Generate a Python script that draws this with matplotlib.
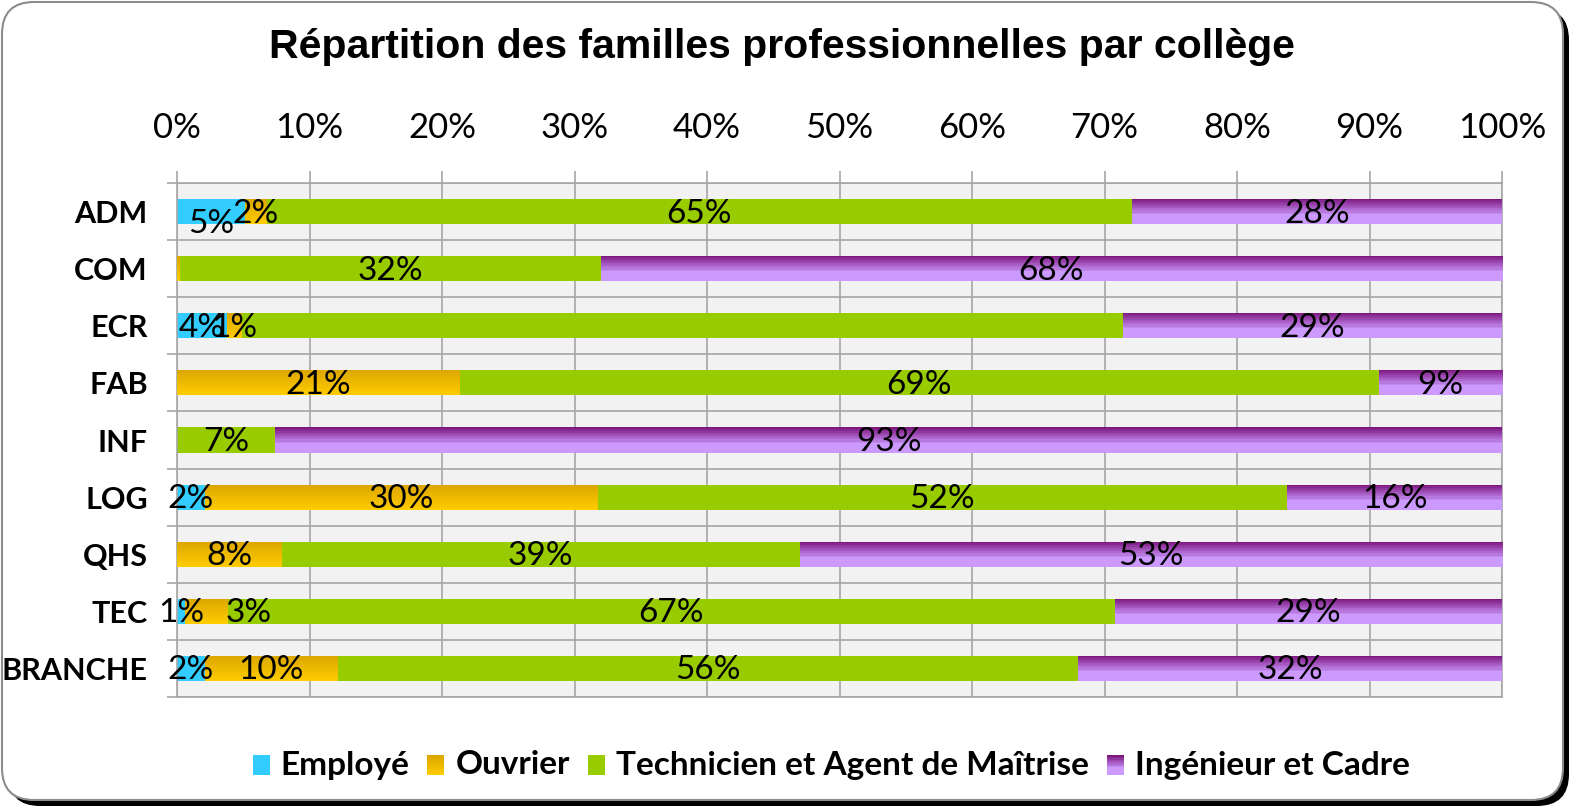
import numpy as np
import matplotlib
matplotlib.use("Agg")
import matplotlib.pyplot as plt
from matplotlib.patches import FancyBboxPatch
from matplotlib.colors import LinearSegmentedColormap
from matplotlib.ticker import PercentFormatter, FixedLocator
from matplotlib.transforms import IdentityTransform, offset_copy

categories = ["ADM", "COM", "ECR", "FAB", "INF", "LOG", "QHS", "TEC", "BRANCHE"]
series = ["Employé", "Ouvrier", "Technicien et Agent de Maîtrise", "Ingénieur et Cadre"]
employe = [5.1, 0.0, 3.8, 0.0, 0.0, 2.1, 0.0, 0.6, 2.1]
ouvrier = [1.6, 0.2, 1.1, 21.3, 0.0, 29.6, 7.9, 3.2, 10.0]
technicien = [65.4, 31.8, 66.5, 69.4, 7.4, 52.1, 39.1, 67.0, 55.9]
ingenieur = [27.9, 68.0, 28.6, 9.3, 92.6, 16.2, 53.0, 29.2, 32.0]

# labels Excel n'affiche pas / labels déplacés à la main (en pixels)
hidden = {("ECR", 2)}
nudge = {("ADM", 0): (0, -10), ("TEC", 1): (42, 0)}

W, H = 1573, 808
fig = plt.figure(figsize=(W / 100, H / 100), dpi=100, facecolor="white")

# cadre arrondi avec ombre noire
shadow = FancyBboxPatch((8, 2), 1561, 798, boxstyle="round,pad=0,rounding_size=32",
                        transform=IdentityTransform(), facecolor="black", edgecolor="none", zorder=-3)
frame = FancyBboxPatch((2, 8), 1561, 798, boxstyle="round,pad=0,rounding_size=32",
                       transform=IdentityTransform(), facecolor="white", edgecolor="#8c8c8c",
                       linewidth=1.5, zorder=-2)
fig.add_artist(shadow)
fig.add_artist(frame)

ax = fig.add_axes([177 / W, 1 - 697 / H, (1502 - 177) / W, (697 - 183) / H])
ax.set_facecolor("#f2f2f2")
ax.set_zorder(1)

gold = LinearSegmentedColormap.from_list("gold", ["#dba600", "#ffcc00"])
purple = LinearSegmentedColormap.from_list("purple", ["#7c1880", "#cc99ff"])


def gold_grad():
    return np.linspace(0, 1, 50).reshape(-1, 1)


def purple_grad():
    t = np.clip(np.arange(25) / 15.0, 0, 1)
    return (np.floor(t * 8) / 8).reshape(-1, 1)


def fill_gradient(bar, cmap, grad):
    x0, y0 = bar.get_x(), bar.get_y()
    w, h = bar.get_width(), bar.get_height()
    if w <= 0:
        return
    im = ax.imshow(grad, cmap=cmap, vmin=0, vmax=1, aspect="auto", interpolation="nearest",
                   extent=(x0, x0 + w, y0 + h, y0), origin="upper", zorder=3)
    im.set_clip_path(bar)


y = np.arange(len(categories))
values = [employe, ouvrier, technicien, ingenieur]
colors = ["#33ccff", "#ffcc00", "#99cc00", "#cc99ff"]
left = np.zeros(len(categories))
height = 0.44
for s, (vals, col) in enumerate(zip(values, colors)):
    vals = np.array(vals)
    bars = ax.barh(y, vals, left=left, height=height, color=col, edgecolor="none", zorder=2)
    for i, bar in enumerate(bars):
        if s == 1:
            fill_gradient(bar, gold, gold_grad())
        elif s == 3:
            fill_gradient(bar, purple, purple_grad())
        key = (categories[i], s)
        if vals[i] < 0.5 or key in hidden:
            continue
        dx, dy = nudge.get(key, (0, 0))
        tr = offset_copy(ax.transData, fig=fig, x=dx * 0.72, y=(dy - 2) * 0.72, units="points")
        ax.text(left[i] + vals[i] / 2, y[i], f"{vals[i]:.0f}%", transform=tr, ha="center", va="center",
                fontsize=24, family="Lato", color="black", zorder=5)
    left += vals

ax.set_xlim(0, 100)
ax.set_ylim(len(categories) - 0.5, -0.5)

ax.xaxis.tick_top()
ax.set_xticks(np.arange(0, 101, 10))
ax.xaxis.set_major_formatter(PercentFormatter(decimals=0))
ax.tick_params(axis="x", which="major", length=9, width=1.2, color="#a6a6a6", pad=19,
               labelsize=25, labelfontfamily="Lato")
ax.set_yticks(y)
ax.set_yticklabels(categories, fontsize=22, fontweight="bold", family="Lato")
ax.tick_params(axis="y", which="major", length=0, pad=21)
ax.yaxis.set_minor_locator(FixedLocator(np.arange(-0.5, len(categories), 1)))
ax.tick_params(axis="y", which="minor", length=7.5, width=1.2, color="#a6a6a6")

ax.set_axisbelow(True)
ax.grid(axis="x", which="major", color="#a6a6a6", linewidth=1.2)
ax.grid(axis="y", which="minor", color="#a6a6a6", linewidth=1.2)
for sp in ax.spines.values():
    sp.set_color("#a6a6a6")
    sp.set_linewidth(1.2)

fig.text(782 / W, 1 - 47 / H, "Répartition des familles professionnelles par collège",
         ha="center", va="center", fontsize=29.5, fontweight="bold", family="Liberation Sans")

# légende dessinée à la main, centrée sous le graphique
renderer = fig.canvas.get_renderer()
sw, sh, gap_in, gap_out = 17, 20, 11, 18
texts = []
for name in series:
    t = fig.text(0, 0, name, fontsize=24, fontweight="bold", family="Lato", va="center", ha="left")
    texts.append(t)
widths = [t.get_window_extent(renderer).width for t in texts]
total = sum(widths) + len(series) * (sw + gap_in) + (len(series) - 1) * gap_out
x = 831 - total / 2
yc = H - 765
for s, (t, w) in enumerate(zip(texts, widths)):
    sax = fig.add_axes([x / W, (yc - sh / 2) / H, sw / W, sh / H])
    sax.set_axis_off()
    if s == 1:
        sax.imshow(gold_grad(), cmap=gold, vmin=0, vmax=1, aspect="auto", interpolation="nearest")
    elif s == 3:
        sax.imshow(purple_grad(), cmap=purple, vmin=0, vmax=1, aspect="auto", interpolation="nearest")
    else:
        sax.add_patch(plt.Rectangle((0, 0), 1, 1, color=colors[s], transform=sax.transAxes))
    x += sw + gap_in
    t.set_position((x / W, yc / H))
    x += w + gap_out

fig.savefig("out.png", dpi=100, facecolor="white")
